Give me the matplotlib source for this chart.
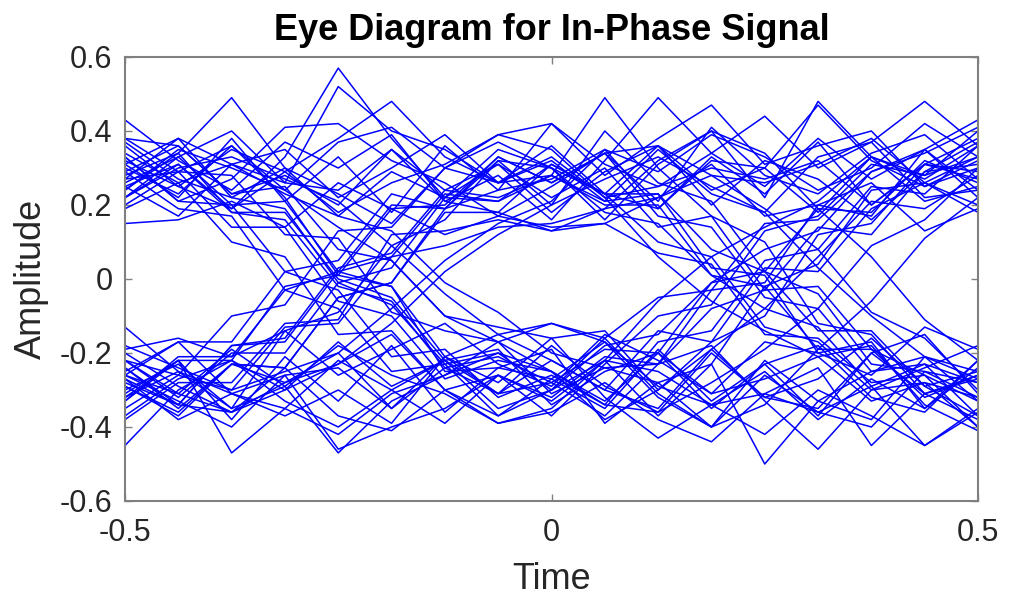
import numpy as np
import matplotlib
matplotlib.use("Agg")
import matplotlib.pyplot as plt

plt.rcParams['font.family'] = ['Liberation Sans', 'DejaVu Sans']

# sample instants: two symbol periods, 8 samples per symbol
time = np.linspace(-0.5, 0.5, 17)

# traces (amplitude at each sample instant),
# grouped by the sign of the three symbol decisions (-0.5, 0, 0.5)
traces_pp_p = [
    [0.31, 0.22, 0.38, 0.21, 0.33, 0.18, 0.36, 0.24, 0.27, 0.35, 0.19, 0.33, 0.23, 0.37, 0.20, 0.31, 0.27],
    [0.24, 0.34, 0.49, 0.30, 0.17, 0.29, 0.22, 0.35, 0.30, 0.16, 0.31, 0.40, 0.22, 0.48, 0.33, 0.21, 0.25],
    [0.36, 0.25, 0.19, 0.33, 0.57, 0.38, 0.22, 0.31, 0.18, 0.29, 0.36, 0.20, 0.32, 0.27, 0.16, 0.29, 0.37],
    [0.20, 0.29, 0.36, 0.24, 0.37, 0.41, 0.30, 0.39, 0.42, 0.28, 0.38, 0.47, 0.31, 0.36, 0.40, 0.25, 0.32],
    [0.15, 0.16, 0.21, 0.14, 0.26, 0.19, 0.12, 0.17, 0.14, 0.15, 0.22, 0.31, 0.17, 0.20, 0.26, 0.13, 0.19],
    [0.43, 0.32, 0.24, 0.37, 0.30, 0.39, 0.21, 0.28, 0.16, 0.32, 0.49, 0.34, 0.25, 0.38, 0.27, 0.35, 0.22],
    [0.27, 0.38, 0.31, 0.26, 0.52, 0.40, 0.35, 0.26, 0.33, 0.22, 0.25, 0.34, 0.44, 0.30, 0.37, 0.48, 0.36],
]
traces_pp_m = [
    [0.29, 0.36, 0.23, 0.28, 0.20, 0.35, 0.24, 0.31, 0.22, 0.30, 0.14, 0.17, -0.03, -0.02, -0.19, -0.26, -0.33],
    [0.25, 0.17, 0.31, 0.35, 0.22, 0.30, 0.39, 0.26, 0.32, 0.21, 0.23, 0.03, 0.01, -0.20, -0.17, -0.35, -0.24],
    [0.33, 0.21, 0.27, 0.41, 0.42, 0.32, 0.26, 0.17, 0.25, 0.34, 0.36, 0.28, 0.19, 0.08, -0.09, -0.16, -0.30],
    [0.22, 0.31, 0.19, 0.29, 0.38, 0.48, 0.33, 0.26, 0.28, 0.49, 0.30, 0.17, 0.10, -0.12, -0.15, -0.31, -0.38],
    [0.37, 0.27, 0.22, 0.30, 0.23, 0.15, 0.30, 0.37, 0.30, 0.18, 0.15, 0.01, -0.08, -0.13, -0.29, -0.45, -0.35],
    [0.26, 0.33, 0.40, 0.26, 0.24, 0.35, 0.21, 0.18, 0.13, 0.19, 0.32, 0.40, 0.34, 0.19, 0.06, -0.11, -0.22],
    [0.32, 0.25, 0.35, 0.29, 0.18, 0.26, 0.31, 0.39, 0.35, 0.22, 0.06, -0.06, -0.14, -0.21, -0.33, -0.28, -0.40],
]
traces_pm_p = [
    [0.28, 0.34, 0.18, 0.16, -0.02, -0.06, -0.24, -0.21, -0.28, -0.19, -0.20, -0.01, 0.02, 0.19, 0.18, 0.32, 0.26],
    [0.33, 0.21, 0.20, 0.02, -0.03, -0.21, -0.19, -0.32, -0.26, -0.34, -0.17, -0.14, 0.05, 0.08, 0.25, 0.23, 0.36],
    [0.24, 0.35, 0.30, 0.24, 0.14, 0.05, -0.10, -0.17, -0.31, -0.24, -0.23, -0.08, -0.03, 0.14, 0.12, 0.29, 0.31],
    [0.30, 0.23, 0.36, 0.22, 0.01, -0.02, -0.25, -0.24, -0.19, -0.39, -0.28, -0.23, -0.02, 0.04, 0.24, 0.26, 0.20],
    [0.19, 0.26, 0.10, 0.06, -0.15, -0.14, -0.30, -0.26, -0.37, -0.23, -0.10, -0.07, 0.13, 0.17, 0.31, 0.28, 0.33],
    [0.38, 0.29, 0.28, 0.12, 0.11, -0.09, -0.14, -0.17, -0.12, -0.16, -0.05, -0.03, 0.15, 0.16, 0.29, 0.34, 0.41],
    [0.22, 0.30, 0.33, 0.27, 0.21, 0.09, -0.04, -0.15, -0.22, -0.30, -0.35, -0.19, -0.08, 0.06, 0.21, 0.19, 0.28],
]
traces_pm_m = [
    [0.27, 0.29, 0.14, 0.14, -0.06, -0.10, -0.27, -0.22, -0.25, -0.33, -0.20, -0.35, -0.23, -0.18, -0.32, -0.36, -0.22],
    [0.31, 0.38, 0.22, 0.19, -0.01, -0.07, -0.23, -0.20, -0.30, -0.22, -0.37, -0.23, -0.50, -0.33, -0.25, -0.21, -0.33],
    [0.22, 0.33, 0.20, 0.21, 0.02, -0.02, -0.21, -0.31, -0.28, -0.37, -0.23, -0.18, -0.33, -0.46, -0.30, -0.24, -0.18],
    [0.29, 0.19, 0.17, -0.03, -0.08, -0.25, -0.23, -0.37, -0.27, -0.17, -0.29, -0.34, -0.31, -0.24, -0.45, -0.31, -0.26],
    [0.38, 0.36, 0.23, 0.25, 0.08, 0.05, -0.10, -0.13, -0.16, -0.14, -0.30, -0.19, -0.32, -0.35, -0.20, -0.15, -0.31],
    [0.25, 0.31, 0.18, 0.18, 0.00, -0.05, -0.22, -0.19, -0.34, -0.25, -0.20, -0.31, -0.27, -0.21, -0.18, -0.34, -0.41],
    [0.34, 0.26, 0.31, 0.23, 0.17, 0.13, -0.01, -0.09, -0.20, -0.24, -0.28, -0.40, -0.26, -0.36, -0.29, -0.23, -0.28],
]
traces_mp_p = [
    [-0.27, -0.34, -0.18, -0.16, 0.03, 0.07, 0.24, 0.22, 0.28, 0.21, 0.35, 0.23, 0.18, 0.33, 0.37, 0.22, 0.24],
    [-0.32, -0.22, -0.22, -0.02, 0.01, 0.19, 0.20, 0.33, 0.26, 0.34, 0.21, 0.41, 0.28, 0.23, 0.34, 0.39, 0.27],
    [-0.22, -0.32, -0.20, -0.20, -0.01, 0.03, 0.22, 0.21, 0.31, 0.23, 0.19, 0.32, 0.30, 0.47, 0.32, 0.25, 0.30],
    [-0.29, -0.37, -0.23, -0.24, -0.05, -0.01, 0.19, 0.24, 0.42, 0.31, 0.25, 0.30, 0.27, 0.32, 0.20, 0.31, 0.29],
    [-0.26, -0.17, -0.17, 0.02, 0.05, 0.23, 0.19, 0.32, 0.30, 0.23, 0.36, 0.24, 0.30, 0.18, 0.33, 0.27, 0.36],
    [-0.35, -0.26, -0.30, -0.13, -0.12, 0.06, 0.09, 0.14, 0.15, 0.19, 0.22, 0.28, 0.26, 0.31, 0.38, 0.26, 0.18],
    [-0.18, -0.24, -0.30, -0.25, -0.20, -0.08, 0.05, 0.15, 0.21, 0.35, 0.29, 0.39, 0.33, 0.24, 0.30, 0.42, 0.33],
]
traces_mp_m = [
    [-0.28, -0.34, -0.18, -0.17, 0.02, 0.06, 0.23, 0.21, 0.28, 0.20, 0.20, 0.01, -0.02, -0.19, -0.19, -0.32, -0.26],
    [-0.33, -0.21, -0.21, -0.03, 0.02, 0.20, 0.19, 0.33, 0.26, 0.34, 0.17, 0.14, -0.05, -0.08, -0.25, -0.23, -0.37],
    [-0.24, -0.35, -0.23, -0.24, -0.05, -0.01, 0.18, 0.18, 0.31, 0.23, 0.23, 0.08, 0.02, -0.14, -0.14, -0.29, -0.25],
    [-0.30, -0.23, -0.35, -0.14, -0.09, 0.09, 0.16, 0.32, 0.20, 0.40, 0.26, 0.21, 0.02, -0.04, -0.23, -0.25, -0.28],
    [-0.22, -0.26, -0.10, -0.07, 0.13, 0.14, 0.30, 0.26, 0.36, 0.23, 0.10, 0.06, -0.13, -0.17, -0.30, -0.28, -0.32],
    [-0.38, -0.28, -0.28, -0.12, -0.11, 0.12, 0.13, 0.16, 0.13, 0.15, 0.07, 0.04, -0.15, -0.16, -0.28, -0.26, -0.40],
    [-0.26, -0.31, -0.36, -0.28, -0.23, -0.12, 0.02, 0.12, 0.20, 0.27, 0.33, 0.25, 0.18, 0.03, -0.10, -0.21, -0.27],
]
traces_mm_p = [
    [-0.29, -0.36, -0.23, -0.28, -0.20, -0.35, -0.24, -0.31, -0.22, -0.30, -0.14, -0.17, 0.03, 0.02, 0.19, 0.26, 0.33],
    [-0.25, -0.17, -0.31, -0.35, -0.22, -0.30, -0.39, -0.26, -0.32, -0.21, -0.23, -0.03, -0.01, 0.20, 0.17, 0.35, 0.24],
    [-0.33, -0.22, -0.47, -0.35, -0.42, -0.31, -0.26, -0.17, -0.25, -0.34, -0.36, -0.28, -0.19, -0.08, 0.09, 0.16, 0.30],
    [-0.22, -0.31, -0.19, -0.29, -0.47, -0.33, -0.26, -0.20, -0.25, -0.38, -0.30, -0.17, -0.10, 0.12, 0.15, 0.31, 0.38],
    [-0.37, -0.27, -0.22, -0.30, -0.23, -0.15, -0.30, -0.37, -0.30, -0.18, -0.15, -0.01, 0.08, 0.13, 0.29, 0.35, 0.43],
    [-0.26, -0.33, -0.40, -0.26, -0.24, -0.35, -0.21, -0.15, -0.12, -0.17, -0.32, -0.40, -0.34, -0.19, -0.06, 0.11, 0.22],
    [-0.32, -0.25, -0.35, -0.29, -0.18, -0.26, -0.31, -0.39, -0.35, -0.22, -0.06, 0.06, 0.14, 0.21, 0.33, 0.28, 0.40],
]
traces_mm_m = [
    [-0.31, -0.22, -0.38, -0.21, -0.33, -0.18, -0.36, -0.24, -0.27, -0.35, -0.19, -0.33, -0.23, -0.37, -0.20, -0.31, -0.27],
    [-0.24, -0.34, -0.36, -0.30, -0.17, -0.29, -0.22, -0.35, -0.30, -0.16, -0.31, -0.40, -0.22, -0.33, -0.38, -0.21, -0.25],
    [-0.45, -0.30, -0.22, -0.33, -0.40, -0.30, -0.22, -0.31, -0.18, -0.29, -0.36, -0.20, -0.32, -0.27, -0.16, -0.29, -0.37],
    [-0.20, -0.29, -0.36, -0.24, -0.37, -0.41, -0.30, -0.39, -0.36, -0.28, -0.38, -0.44, -0.31, -0.36, -0.40, -0.25, -0.32],
    [-0.19, -0.16, -0.21, -0.14, -0.26, -0.19, -0.12, -0.23, -0.29, -0.15, -0.22, -0.31, -0.17, -0.20, -0.26, -0.13, -0.19],
    [-0.13, -0.25, -0.31, -0.37, -0.30, -0.39, -0.21, -0.28, -0.16, -0.32, -0.43, -0.34, -0.25, -0.38, -0.27, -0.35, -0.22],
    [-0.27, -0.38, -0.31, -0.26, -0.46, -0.40, -0.35, -0.26, -0.33, -0.22, -0.25, -0.34, -0.42, -0.30, -0.37, -0.45, -0.36],
]

x_ticks = [-0.5, 0, 0.5]
x_tick_labels = ['-0.5', '0', '0.5']
y_ticks = [-0.6, -0.4, -0.2, 0, 0.2, 0.4, 0.6]
y_tick_labels = ['-0.6', '-0.4', '-0.2', '0', '0.2', '0.4', '0.6']

all_traces = (traces_pp_p + traces_pp_m + traces_pm_p + traces_pm_m
              + traces_mp_p + traces_mp_m + traces_mm_p + traces_mm_m)

fig = plt.figure(figsize=(10.1, 5.95), dpi=100)
ax = fig.add_axes([125 / 1010, 1 - 501 / 595, 853 / 1010, 444 / 595])

for trace in all_traces:
    ax.plot(time, trace, color='#0000ff', linewidth=1.1)

ax.set_xlim(-0.5, 0.5)
ax.set_ylim(-0.6, 0.6)
ax.set_xticks(x_ticks)
ax.set_xticklabels(x_tick_labels)
ax.set_yticks(y_ticks)
ax.set_yticklabels(y_tick_labels)

box_color = '#808080'
for side in ax.spines.values():
    side.set_color(box_color)
    side.set_linewidth(1.5)
ax.tick_params(direction='in', length=5, width=1.0, color=box_color,
               labelsize=22, labelcolor='#262626', top=True, right=True)
ax.tick_params(axis='x', pad=12)
ax.tick_params(axis='y', pad=9)

ax.set_xlabel('Time', fontsize=26, color='#262626', labelpad=10)
ax.set_ylabel('Amplitude', fontsize=26, color='#262626', labelpad=8)
ax.set_title('Eye Diagram for In-Phase Signal', fontsize=26,
             fontweight='bold', pad=12)

fig.savefig('out.png', dpi=100)
